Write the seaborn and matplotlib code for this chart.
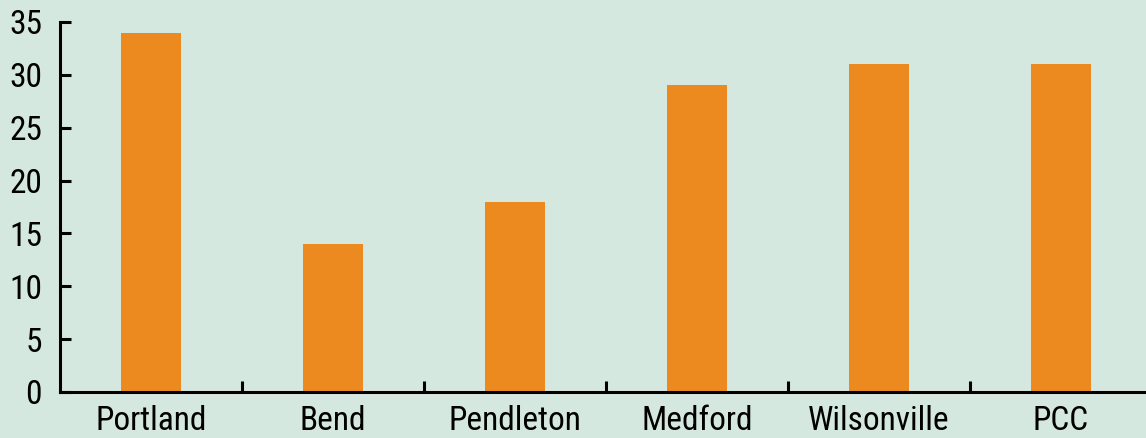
import matplotlib
matplotlib.use("Agg")
import matplotlib.pyplot as plt
import seaborn as sns
import pandas as pd
from matplotlib.ticker import FixedLocator

categories = ["Portland", "Bend", "Pendleton", "Medford", "Wilsonville", "PCC"]
values = [34, 14, 18, 29, 31, 31]
yticks = [0, 5, 10, 15, 20, 25, 30, 35]

sns.set_theme(style="white")
plt.rcParams['font.family'] = ['Roboto Condensed', 'Liberation Sans Narrow', 'Roboto', 'DejaVu Sans']

bg = "#d5e8df"
bar_color = "#ec8a20"

fig = plt.figure(figsize=(11.46, 4.38), dpi=100, facecolor=bg)
ax = fig.add_axes([60/1146, 46/438, 1092/1146, 370/438])
ax.set_facecolor(bg)

df = pd.DataFrame({"city": categories, "value": values})
sns.barplot(data=df, x="city", y="value", color=bar_color, saturation=1,
            width=0.325, linewidth=0, edgecolor="none", ax=ax)

ax.set_xlim(-0.5, len(categories) - 0.5)
ax.set_ylim(0, 35)
ax.set_yticks(yticks)
ax.set_xlabel("")
ax.set_ylabel("")

for s in ["top", "right"]:
    ax.spines[s].set_visible(False)
for s in ["left", "bottom"]:
    ax.spines[s].set_color("black")
    ax.spines[s].set_linewidth(2.2)
    ax.spines[s].set_zorder(5)

ax.tick_params(axis="y", direction="in", length=8, width=2.2, color="black",
               labelsize=24, pad=13, labelcolor="black", left=True)
ax.tick_params(axis="x", which="major", length=0, labelsize=24, pad=9,
               labelcolor="black")
ax.xaxis.set_minor_locator(FixedLocator([i + 0.5 for i in range(len(categories) - 1)]))
ax.tick_params(axis="x", which="minor", direction="in", length=8, width=2.2,
               color="black", bottom=True)

fig.savefig("out.png", dpi=100, facecolor=bg)
